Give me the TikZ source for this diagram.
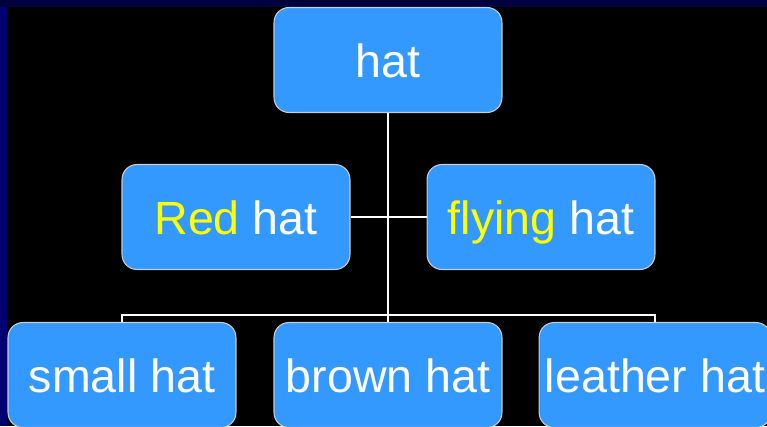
\documentclass[tikz,border=0pt]{standalone}
\usepackage{fontspec}
\setmainfont{Liberation Sans}
\usetikzlibrary{positioning}
\definecolor{boxblue}{HTML}{3399FF}
\definecolor{framenavy}{HTML}{00003F}
\definecolor{sidenavy}{HTML}{000070}
\definecolor{hiyellow}{HTML}{FFFF00}
\tikzset{hatbox/.style={draw=black!20, line width=0.6pt, fill=boxblue, rounded corners=0.3cm,
    minimum width=4.56cm, minimum height=2.1cm, text=white,
    text height=24pt, text depth=4.6pt,
    font=\fontsize{26.5}{30}\selectfont},
  link/.style={draw=white, line width=1.3pt}}

\begin{document}
\begin{tikzpicture}[x=0.02cm, y=-0.02cm]
  % slide background
  \useasboundingbox (0,0) rectangle (767,426);
  \clip (0,0) rectangle (767,426);
  \fill[black] (0,0) rectangle (767,426);
  \fill[framenavy] (0,0) rectangle (767,7);
  \fill[sidenavy] (0,7) rectangle (7,426);
  % boxes
  \node[hatbox] (top) at (388,60) {hat};
  \node[hatbox] (red) at (236,217) {\textcolor{hiyellow}{Red} hat};
  \node[hatbox] (fly) at (541,217) {\textcolor{hiyellow}{flying} hat};
  \node[hatbox] (small) at (122,375) {small hat};
  \node[hatbox] (brown) at (388,375) {brown hat};
  \node[hatbox] (leather) at (655,375) {leather hat};
  % connectors
  \coordinate (bus) at (388,315);
  \draw[link] (top.south) -- (bus);
  \draw[link] (red.east) -- (fly.west);
  \draw[link] (small.north) |- (bus) -| (leather.north);
  \draw[link] (bus) -- (brown.north);
\end{tikzpicture}
\end{document}
